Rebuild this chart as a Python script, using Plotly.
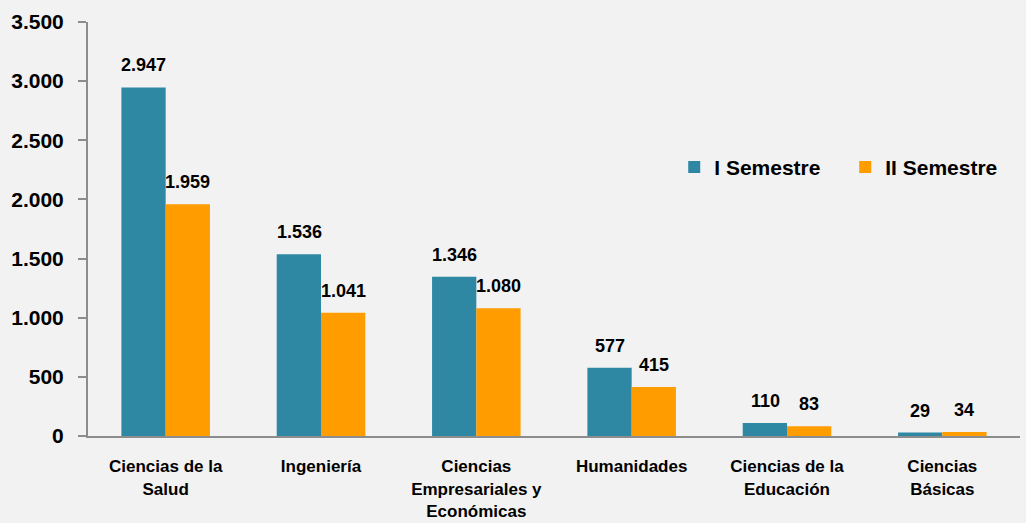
import plotly.graph_objects as go

categories = ["Ciencias de la<br>Salud", "Ingeniería", "Ciencias<br>Empresariales y<br>Económicas",
              "Humanidades", "Ciencias de la<br>Educación", "Ciencias<br>Básicas"]
sem1 = [2947, 1536, 1346, 577, 110, 29]
sem2 = [1959, 1041, 1080, 415, 83, 34]
series_names = ["I Semestre", "II Semestre"]
y_ticks = [0, 500, 1000, 1500, 2000, 2500, 3000, 3500]

FONT = "Liberation Sans Narrow, Arial Narrow, Liberation Sans, Arial, sans-serif"
c1 = "#2e88a3"
c2 = "#ff9c00"


def fmt(v):
    return f"{v:,}".replace(",", ".")


fig = go.Figure()
fig.add_trace(go.Bar(x=categories, y=sem1, name=f"<b>{series_names[0]}</b>",
                     marker=dict(color=c1, line=dict(width=0))))
fig.add_trace(go.Bar(x=categories, y=sem2, name=f"<b>{series_names[1]}</b>",
                     marker=dict(color=c2, line=dict(width=0))))

for vals, xs in ((sem1, -22), (sem2, 22)):
    for c, v in zip(categories, vals):
        fig.add_annotation(x=c, y=v, text=f"<b>{fmt(v)}</b>", showarrow=False,
                           xshift=xs, yanchor="bottom", yshift=10,
                           font=dict(family=FONT, size=18, color="#000"))

fig.update_layout(
    width=1026, height=523,
    paper_bgcolor="#f2f2f2", plot_bgcolor="#f2f2f2",
    margin=dict(l=88, r=6, t=22, b=87, autoexpand=False),
    barmode="group", bargap=0.43, bargroupgap=0,
    separators=",.",
    font=dict(family=FONT, color="#000"),
    legend=dict(orientation="h", x=0.629, y=0.649, xanchor="left", yanchor="middle",
                font=dict(family=FONT, size=21, color="#000"), bgcolor="rgba(0,0,0,0)",
                traceorder="normal", itemwidth=30, entrywidth=126),
    showlegend=True,
)
fig.update_yaxes(range=[0, 3500], tickvals=y_ticks, ticktext=[f"<b>{fmt(t)}</b>" for t in y_ticks],
                 showgrid=False, zeroline=False, showline=True, linecolor="#8c8c8c", linewidth=2,
                 ticks="outside", ticklen=8, tickcolor="#8c8c8c", tickwidth=2,
                 ticklabelstandoff=10,
                 tickfont=dict(family=FONT, size=21, color="#000"), automargin=False)
fig.update_xaxes(tickvals=categories, ticktext=[f"<b>{c}</b>" for c in categories],
                 showgrid=False, showline=True, linecolor="#8c8c8c", linewidth=2,
                 ticks="", ticklabelstandoff=14,
                 tickfont=dict(family=FONT, size=17, color="#000"), automargin=False)

fig.write_html("out.html", config={"displayModeBar": False},
               post_script="document.body.style.margin='0';document.body.style.background='#f2f2f2';")
